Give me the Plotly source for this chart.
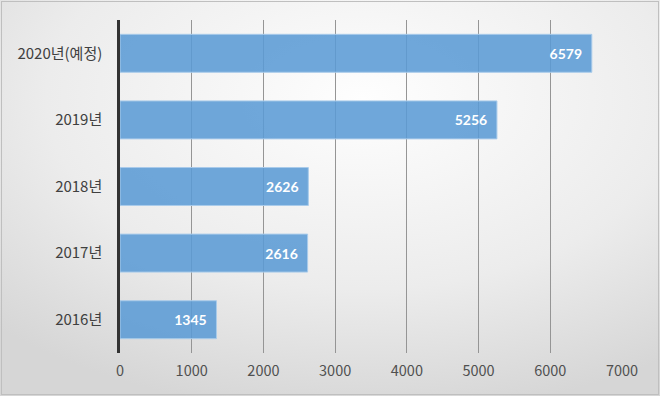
import plotly.graph_objects as go
import base64

categories = ["2016년", "2017년", "2018년", "2019년", "2020년(예정)"]
values = [1345, 2616, 2626, 5256, 6579]
x_ticks = [0, 1000, 2000, 3000, 4000, 5000, 6000, 7000]

W, H = 660, 396
ml, mr, mt, mb = 120, 38, 20, 43
pw, ph = W - ml - mr, H - mt - mb

svg = f'''<svg xmlns="http://www.w3.org/2000/svg" width="{W}" height="{H}" viewBox="0 0 {W} {H}" preserveAspectRatio="none">
<defs><radialGradient id="g" cx="0.55" cy="0.25" r="0.8">
<stop offset="0" stop-color="#FEFEFE"/><stop offset="0.6" stop-color="#ECECEC"/><stop offset="1" stop-color="#D6D6D6"/></radialGradient></defs>
<rect x="0" y="0" width="{W}" height="{H}" fill="url(#g)"/>
<rect x="1.5" y="1.5" width="{W-3}" height="{H-3}" fill="none" stroke="#BFBFBF" stroke-width="1"/>
</svg>'''
src = "data:image/svg+xml;base64," + base64.b64encode(svg.encode()).decode()

fig = go.Figure()
fig.add_trace(go.Bar(
    y=categories, x=values, orientation="h",
    marker=dict(color="rgba(91,155,213,0.88)", line=dict(color="#A9CBEA", width=1)),
    text=[str(v) + "\u00a0\u00a0" for v in values], textposition="inside", insidetextanchor="end",
    textfont=dict(family="Lato, Noto Sans", size=14, color="white", weight="bold"),
    cliponaxis=False, hoverinfo="skip",
))

fig.update_layout(
    width=W, height=H,
    margin=dict(l=ml, r=mr, t=mt, b=mb),
    paper_bgcolor="rgba(0,0,0,0)", plot_bgcolor="rgba(0,0,0,0)",
    bargap=0.43, showlegend=False,
    images=[dict(source=src, xref="paper", yref="paper",
                 x=-ml / pw, y=1 + mt / ph, sizex=W / pw, sizey=H / ph,
                 xanchor="left", yanchor="top", sizing="stretch", layer="below")],
    font=dict(family="Noto Sans CJK KR", size=14, color="#404040"),
)
fig.update_xaxes(range=[0, 7000], tickvals=x_ticks, showgrid=True, gridcolor="#959595",
                 gridwidth=1, zeroline=False, showline=False, ticks="",
                 tickfont=dict(size=14.5, color="#505050"), ticklabelstandoff=7)
fig.update_yaxes(showline=True, linecolor="#333333", linewidth=2.5, ticks="",
                 showgrid=False, tickfont=dict(size=15, color="#404040"),
                 ticklabelstandoff=12)

fig.write_html("out.html", config={"displayModeBar": False},
               post_script="document.body.style.margin='0';")
